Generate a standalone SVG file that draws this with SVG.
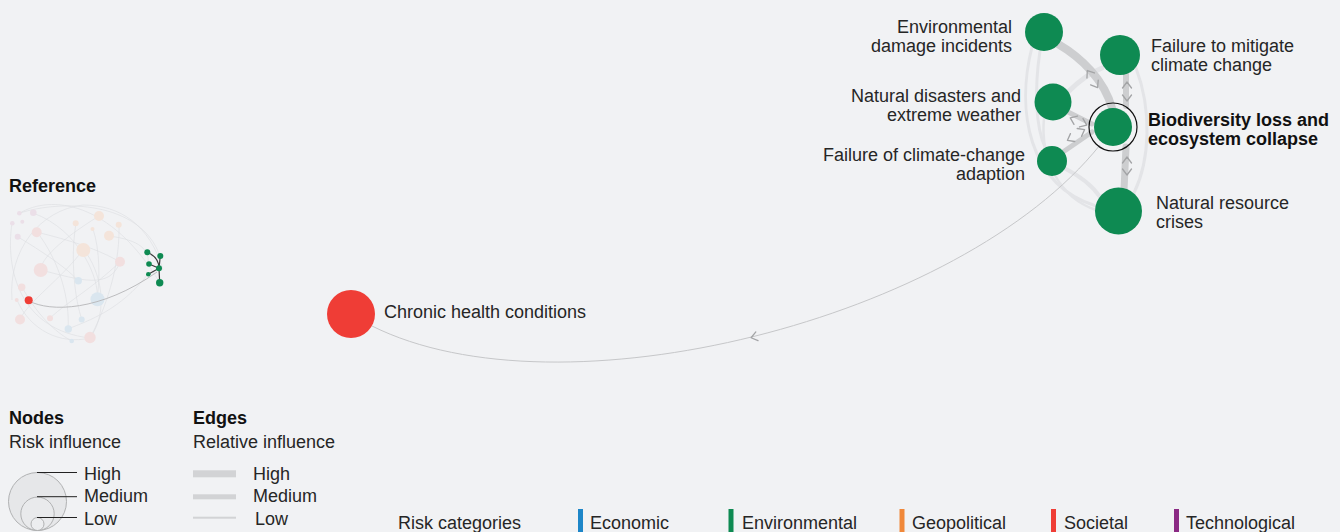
<svg xmlns="http://www.w3.org/2000/svg" xmlns:xlink="http://www.w3.org/1999/xlink" width="1340" height="532" viewBox="0 0 1340 532">
<defs>
<style>
text{font-family:"Liberation Sans",Arial,Helvetica,sans-serif;font-size:18px;fill:#262626;}
.b{font-weight:bold;fill:#111;}
.r{text-anchor:end;}
.env{fill:#0e8a52;}
.soc{fill:#ef3d36;}
.band{fill:none;stroke:#cdced0;stroke-linecap:round;}
.lite{fill:none;stroke:#e3e4e7;stroke-linecap:round;}
.thin{fill:none;stroke:#c6c7c9;stroke-width:1;}
.chev{fill:none;stroke:#a3a4a6;stroke-width:1.3;stroke-linecap:round;stroke-linejoin:round;}
.mini{fill:none;stroke:#dcdde0;stroke-width:0.6;}
.pk{fill:#f2dfdf;}
.pc{fill:#f4e4da;}
.lv{fill:#ebdfe8;}
.lb{fill:#dae6ef;}
.leg{fill:none;stroke:#222;stroke-width:1;}
</style>
<path id="chev" d="M-3,-4.5 L3,0 L-3,4.5"/>
</defs>
<rect width="1340" height="532" fill="#f1f2f4"/>

<!-- connectors -->
<g id="connectors">
  <path class="lite" stroke-width="3" d="M1032,47 C1016,110 1028,185 1096,206"/>
  <path class="lite" stroke-width="3" d="M1040,51 C1034,90 1036,128 1045,147"/>
  <path class="lite" stroke-width="2.5" d="M1044,118 C1040,160 1060,198 1096,210"/>
  <path class="lite" stroke-width="5" d="M1068,92 C1080,80 1092,72 1102,68"/>
  <path class="lite" stroke-width="4" d="M1064,168 C1080,176 1092,185 1100,197"/>
  <path class="lite" stroke-width="3" d="M1136,68 C1152,110 1150,160 1134,193"/>
  <path class="band" stroke-width="8" d="M1058,44 C1082,58 1104,80 1112,108"/>
  <path class="band" stroke-width="6" d="M1126,74 L1126,106"/>
  <path class="band" stroke-width="7" d="M1126,147 L1124,190"/>
  <path class="band" stroke-width="5" d="M1068,112 L1092,124"/>
  <path class="band" stroke-width="5" d="M1063,152 L1092,132"/>
  <use href="#chev" class="chev" transform="translate(1089,73) rotate(236)"/>
  <use href="#chev" class="chev" transform="translate(1096,85) rotate(58)"/>
  <use href="#chev" class="chev" transform="translate(1127,85) rotate(-90)"/>
  <use href="#chev" class="chev" transform="translate(1127,98) rotate(90)"/>
  <use href="#chev" class="chev" transform="translate(1073,119) rotate(203)"/>
  <use href="#chev" class="chev" transform="translate(1084,124) rotate(23)"/>
  <use href="#chev" class="chev" transform="translate(1070,139) rotate(151)"/>
  <use href="#chev" class="chev" transform="translate(1082,131) rotate(-29)"/>
  <use href="#chev" class="chev" transform="translate(1127,160) rotate(-90)"/>
  <use href="#chev" class="chev" transform="translate(1127,172) rotate(90)"/>
  <path class="thin" d="M1100,145 C960,320 560,420 372,326"/>
  <use href="#chev" class="chev" stroke-width="1" transform="translate(754,337) rotate(166)"/>
</g>

<!-- nodes -->
<g id="node-env-damage">
  <circle class="env" cx="1044" cy="32" r="19"/>
  <text class="r" x="1012" y="32.5">Environmental</text>
  <text class="r" x="1012" y="51.5">damage incidents</text>
</g>
<g id="node-mitigate">
  <circle class="env" cx="1120" cy="55" r="20"/>
  <text x="1151" y="52">Failure to mitigate</text>
  <text x="1151" y="71">climate change</text>
</g>
<g id="node-disasters">
  <circle class="env" cx="1053" cy="102" r="18.5"/>
  <text class="r" x="1021" y="102">Natural disasters and</text>
  <text class="r" x="1021" y="121">extreme weather</text>
</g>
<g id="node-biodiversity">
  <circle cx="1113" cy="127" r="24" fill="none" stroke="#111" stroke-width="1.2"/>
  <circle class="env" cx="1113" cy="127" r="19"/>
  <text class="b" x="1148" y="126">Biodiversity loss and</text>
  <text class="b" x="1148" y="145">ecosystem collapse</text>
</g>
<g id="node-adaption">
  <circle class="env" cx="1052" cy="161" r="15"/>
  <text class="r" x="1025" y="161">Failure of climate-change</text>
  <text class="r" x="1025" y="180">adaption</text>
</g>
<g id="node-resource">
  <circle class="env" cx="1118.5" cy="211" r="23.5"/>
  <text x="1156" y="209">Natural resource</text>
  <text x="1156" y="228">crises</text>
</g>
<g id="node-chronic">
  <circle class="soc" cx="351" cy="314" r="24"/>
  <text x="384" y="318">Chronic health conditions</text>
</g>

<!-- reference mini map -->
<g id="reference">
  <text class="b" x="9" y="192">Reference</text>
  <g>
    <path class="mini" d="M20,213 C60,200 140,200 160,256"/>
    <path class="mini" d="M12,223 C5,270 20,330 90,338"/>
    <path class="mini" d="M33,213 C80,230 100,280 97,299"/>
    <path class="mini" d="M36,232 C70,240 100,250 120,262"/>
    <path class="mini" d="M99,216 C60,240 40,260 41,270"/>
    <path class="mini" d="M83,250 C60,280 30,300 20,319"/>
    <path class="mini" d="M41,270 C80,280 110,290 120,262"/>
    <path class="mini" d="M119,224 C120,260 110,300 90,338"/>
    <path class="mini" d="M76,223 C70,260 75,300 82,320"/>
    <path class="mini" d="M22,287 C40,320 60,335 72,341"/>
    <path class="mini" d="M109,236 C140,240 150,250 148,264"/>
    <path class="mini" d="M17,300 C30,330 60,345 90,338"/>
    <path class="mini" d="M18,237 C40,250 70,270 78,281"/>
    <path class="mini" d="M93,229 C100,250 100,280 97,299"/>
    <path class="mini" d="M50,318 C70,300 90,290 120,262"/>
    <path class="mini" d="M20,213 C50,195 110,200 160,283"/>
    <path class="mini" d="M68,329 C90,320 120,310 148,274"/>
    <path class="mini" d="M12,300 C8,250 40,210 83,205 C120,205 150,225 163,270"/>
    <path class="mini" d="M37,232 C60,262 70,300 68,329"/>
    <path class="mini" d="M84,250 C100,270 110,310 90,338"/>
  </g>
  <g>
    <circle class="lv" cx="19.3" cy="213.3" r="2.3"/>
    <circle class="lv" cx="33.3" cy="212.7" r="3.3"/>
    <circle class="lv" cx="12.3" cy="223.3" r="2.3"/>
    <circle class="lv" cx="22.3" cy="221.7" r="2"/>
    <circle class="lv" cx="17.7" cy="236.7" r="3"/>
    <circle class="pk" cx="36.7" cy="232.3" r="5"/>
    <circle class="pc" cx="99" cy="216" r="5"/>
    <circle class="pc" cx="75.7" cy="223.3" r="3"/>
    <circle class="pc" cx="118.7" cy="224.7" r="3"/>
    <circle class="pc" cx="92.5" cy="229" r="2"/>
    <circle class="pc" cx="109" cy="235.7" r="5"/>
    <circle class="pc" cx="83.3" cy="250" r="7"/>
    <circle class="pk" cx="120" cy="261.7" r="5"/>
    <circle class="pk" cx="40.7" cy="270" r="7"/>
    <circle class="lb" cx="78.3" cy="280.7" r="3.7"/>
    <circle class="pk" cx="21.7" cy="287.3" r="3.7"/>
    <circle class="pk" cx="16.7" cy="300" r="2"/>
    <circle class="lb" cx="97.5" cy="299.2" r="7"/>
    <circle class="pk" cx="50" cy="318.3" r="3"/>
    <circle class="pk" cx="20" cy="319.5" r="5"/>
    <circle class="lb" cx="81.7" cy="319.5" r="3"/>
    <circle class="lb" cx="68.3" cy="329" r="3.7"/>
    <circle class="lb" cx="71.7" cy="341" r="2.3"/>
    <circle class="pk" cx="90" cy="337.5" r="5.7"/>
  </g>
  <path fill="none" stroke="#b5b6b8" stroke-width="0.9" d="M29,301 C50,312 100,312 157,272"/>
  <g fill="none" stroke="#3a3a3a" stroke-width="1.2">
    <path d="M147.3,252.3 C156,256 159,262 159,268.3 L159.7,282.7"/>
    <path d="M160.3,256 L159,268.3"/>
    <path d="M149,264 L159,268.3"/>
    <path d="M148.3,274.3 L159,268.3"/>
  </g>
  <circle class="soc" cx="28.7" cy="300.3" r="4"/>
  <g class="env">
    <circle cx="147.3" cy="252.3" r="3"/>
    <circle cx="160.3" cy="256" r="3"/>
    <circle cx="149" cy="264" r="2.8"/>
    <circle cx="159" cy="268.3" r="3"/>
    <circle cx="148.3" cy="274.3" r="2.3"/>
    <circle cx="159.7" cy="282.7" r="3.7"/>
  </g>
</g>

<!-- legend nodes -->
<g id="legend-nodes">
  <text class="b" x="9" y="424">Nodes</text>
  <text x="9" y="448">Risk influence</text>
  <circle cx="37.5" cy="501.5" r="29" fill="#e6e7e9" stroke="#a9aaac" stroke-width="0.9"/>
  <circle cx="37.5" cy="513.8" r="16.7" fill="#e9eaec" stroke="#a9aaac" stroke-width="0.9"/>
  <circle cx="37.5" cy="524" r="6.5" fill="#ecedef" stroke="#a9aaac" stroke-width="0.9"/>
  <path class="leg" d="M37,472.5 H77 M37,496.7 H77 M37,517.5 H77"/>
  <text x="84" y="480">High</text>
  <text x="84" y="502">Medium</text>
  <text x="84" y="524.5">Low</text>
</g>

<!-- legend edges -->
<g id="legend-edges">
  <text class="b" x="193" y="424">Edges</text>
  <text x="193" y="448">Relative influence</text>
  <rect x="193" y="470.3" width="43" height="7" fill="#d2d3d5"/>
  <rect x="193" y="494.3" width="43" height="5" fill="#d2d3d5"/>
  <rect x="193" y="516.7" width="43" height="2" fill="#d2d3d5"/>
  <text x="253" y="480">High</text>
  <text x="253" y="502">Medium</text>
  <text x="255" y="524.5">Low</text>
</g>

<!-- risk categories -->
<g id="legend-categories">
  <text x="398" y="528.5">Risk categories</text>
  <rect x="578" y="509" width="5" height="23" fill="#1d86c8"/>
  <text x="590" y="528.5">Economic</text>
  <rect x="728.5" y="509" width="5" height="23" fill="#0e8a52"/>
  <text x="742" y="528.5">Environmental</text>
  <rect x="899.5" y="509" width="5" height="23" fill="#f0883a"/>
  <text x="912" y="528.5">Geopolitical</text>
  <rect x="1051" y="509" width="5" height="23" fill="#ef3d36"/>
  <text x="1064" y="528.5">Societal</text>
  <rect x="1174" y="509" width="5" height="23" fill="#8b2a84"/>
  <text x="1186" y="528.5">Technological</text>
</g>
</svg>
